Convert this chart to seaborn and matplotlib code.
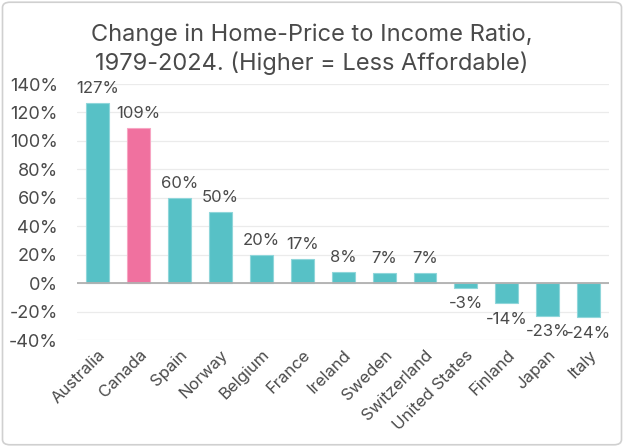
import matplotlib
matplotlib.use("Agg")
import matplotlib.pyplot as plt
import seaborn as sns
from matplotlib.patches import FancyBboxPatch

# data
countries = ["Australia", "Canada", "Spain", "Norway", "Belgium", "France", "Ireland",
             "Sweden", "Switzerland", "United States", "Finland", "Japan", "Italy"]
change_pct = [127, 109, 60, 50, 20, 17, 8, 7, 7, -3, -14, -23, -24]
y_ticks = [-40, -20, 0, 20, 40, 60, 80, 100, 120, 140]

TEAL = "#57c1c6"
PINK = "#f0719f"
TEXT = "#4a4a4a"
bar_colors = [PINK if c == "Canada" else TEAL for c in countries]

sns.set_theme(style="white")
plt.rcParams["font.family"] = ["Inter", "DejaVu Sans"]

fig = plt.figure(figsize=(6.24, 4.47), dpi=100)
ax = fig.add_axes([0.124, 0.239, 0.852, 0.573])

sns.barplot(x=countries, y=change_pct, hue=countries, palette=bar_colors,
            legend=False, width=0.56, saturation=1, ax=ax)
for p in ax.patches:
    p.set_edgecolor("#8fd6da" if p.get_facecolor()[1] > 0.6 else "#f7a5c3")
    p.set_linewidth(0.8)

ax.set_ylim(-40, 140)
ax.set_xlim(-0.5, len(countries) - 0.5)
ax.set_yticks(y_ticks)
ax.set_yticklabels([f"{t}%" for t in y_ticks], fontsize=13, color=TEXT)
ax.tick_params(axis="y", length=0, pad=14)
ax.tick_params(axis="x", length=0, pad=5)
ax.set_xticks(range(len(countries)))
ax.set_xticklabels(countries, rotation=45, ha="right", rotation_mode="anchor",
                   fontsize=12, color=TEXT)

ax.grid(axis="y", color="#ebebeb", linewidth=0.9)
ax.axhline(0, color="#b0b0b0", linewidth=1.3, zorder=3)
ax.set_axisbelow(True)
for s in ax.spines.values():
    s.set_visible(False)

for i, v in enumerate(change_pct):
    if v >= 0:
        ax.annotate(f"{v}%", (i, v), xytext=(0, 5), textcoords="offset points",
                    ha="center", va="bottom", fontsize=12, color=TEXT)
    else:
        ax.annotate(f"{v}%", (i, v), xytext=(0, -6), textcoords="offset points",
                    ha="center", va="top", fontsize=12, color=TEXT)

fig.suptitle("Change in Home-Price to Income Ratio,\n1979-2024. (Higher = Less Affordable)",
             y=0.948, fontsize=17, color=TEXT, linespacing=1.3)

border = FancyBboxPatch((0.004, 0.005), 0.992, 0.99, boxstyle="round,pad=0,rounding_size=0.012",
                        transform=fig.transFigure, fill=False, edgecolor="#d0d0d0", linewidth=1.2)
fig.patches.append(border)

fig.savefig("out.png", dpi=100)
